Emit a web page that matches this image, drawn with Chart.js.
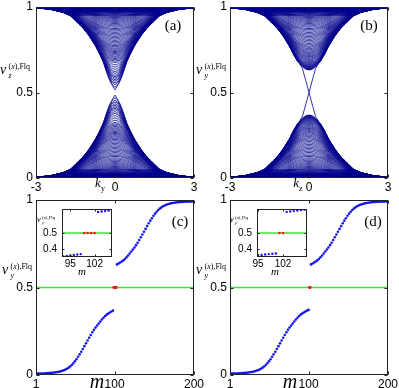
<!DOCTYPE html>
<html>
<head>
<meta charset="utf-8">
<script src="https://cdn.jsdelivr.net/npm/chart.js@4.4.0/dist/chart.umd.min.js"></script>
<style>
  html, body { margin: 0; padding: 0; background: #fff; }
  #wrap { position: relative; width: 399px; height: 388px; overflow: hidden; }
  #wrap canvas { position: absolute; left: 0; top: 0; }
  .t { position: absolute; white-space: nowrap; color: #000; line-height: 1; }
</style>
</head>
<body>
<div id="wrap">
  <canvas id="pa" width="399" height="388"></canvas>
  <canvas id="pb" width="399" height="388"></canvas>
  <canvas id="pc" width="399" height="388"></canvas>
  <canvas id="pd" width="399" height="388"></canvas>
  <canvas id="ic" width="399" height="388"></canvas>
  <canvas id="id" width="399" height="388"></canvas>
</div>
<script>
// ---- data ----

// outer edge of the lower band (nu at k) for panels (a) and (b)
const envK = [0, 0.1, 0.2, 0.3, 0.45, 0.6, 0.75, 1.0, 1.2, 1.5, 1.7, 2.0, 2.5, 3.0, 4.5];
const envA = [0.485, 0.46, 0.43, 0.39, 0.32, 0.27, 0.225, 0.165, 0.126, 0.08, 0.05, 0.03, 0.012, 0.005, 0.002];
const envB = [0.368, 0.365, 0.356, 0.342, 0.315, 0.275, 0.228, 0.166, 0.126, 0.08, 0.05, 0.03, 0.012, 0.005, 0.002];

// in-gap states crossing 0.5 in panel (b)
const edgeK    = [-0.36, -0.25, -0.15, 0, 0.15, 0.25, 0.36];
const edgeDown = [0.67, 0.64, 0.585, 0.5, 0.415, 0.36, 0.33];
const edgeUp   = [0.33, 0.36, 0.415, 0.5, 0.585, 0.64, 0.67];

// panel (c): Wannier centres vs m, lower branch m = 1..98
const lowerC = [
  0.008,0.008,0.008,0.008,0.008,0.009,0.009,0.009,0.009,0.009,
  0.009,0.010,0.010,0.010,0.010,0.011,0.011,0.011,0.012,0.012,
  0.013,0.013,0.014,0.014,0.015,0.016,0.016,0.017,0.018,0.019,
  0.020,0.021,0.022,0.024,0.025,0.027,0.029,0.031,0.033,0.036,
  0.039,0.042,0.045,0.049,0.053,0.057,0.062,0.067,0.072,0.078,
  0.084,0.090,0.097,0.104,0.111,0.118,0.126,0.133,0.141,0.149,
  0.157,0.165,0.173,0.181,0.189,0.197,0.205,0.213,0.221,0.229,
  0.236,0.244,0.251,0.258,0.265,0.271,0.277,0.283,0.289,0.294,
  0.300,0.306,0.312,0.317,0.322,0.327,0.332,0.337,0.341,0.345,
  0.348,0.351,0.354,0.357,0.360,0.363,0.366,0.368
];
// upper branch m = 103..200
const upperC = [
  0.632,0.634,0.637,0.640,0.643,0.646,0.649,0.652,
  0.655,0.659,0.663,0.668,0.673,0.678,0.683,0.688,0.694,0.700,
  0.706,0.711,0.717,0.723,0.729,0.735,0.742,0.749,0.756,0.764,
  0.771,0.779,0.787,0.795,0.803,0.811,0.819,0.827,0.835,0.843,
  0.851,0.859,0.867,0.874,0.882,0.889,0.896,0.903,0.910,0.916,
  0.922,0.928,0.933,0.938,0.943,0.947,0.951,0.955,0.958,0.961,
  0.964,0.967,0.969,0.971,0.973,0.975,0.976,0.978,0.979,0.980,
  0.981,0.982,0.983,0.984,0.984,0.985,0.986,0.986,0.987,0.987,
  0.988,0.988,0.989,0.989,0.989,0.990,0.990,0.990,0.990,0.991,
  0.991,0.991,0.991,0.991,0.991,0.992,0.992,0.992,0.992,0.992
];
const upperStart = 103;
const redC = [99, 100, 101, 102];   // states pinned at 0.5

// panel (d): lower branch runs to m = 100, two states at 0.5
const lowerD = lowerC.concat([0.370, 0.372]);
const upperD = upperC;
const redD = [101, 102];

const lineBlue = 'rgb(0,0,140)';
const dotBlue = 'rgb(20,20,240)';
const dotRed = 'rgb(240,20,20)';
const green = 'rgb(60,230,60)';
const sansFont = '"Liberation Sans", Arial, sans-serif';
const serifFont = '"Liberation Serif", "DejaVu Serif", serif';

// ---- helpers ----
function interp(xs, ys, x) {
  if (x <= xs[0]) return ys[0];
  for (let i = 0; i < xs.length - 1; i++) {
    if (x <= xs[i + 1]) {
      const t = (x - xs[i]) / (xs[i + 1] - xs[i]);
      return ys[i] + t * (ys[i + 1] - ys[i]);
    }
  }
  return ys[ys.length - 1];
}
// k offset at which the (decreasing) panel-b edge reaches value p
function invertEdge(p) {
  if (p >= envB[0]) return 0;
  for (let i = 0; i < envB.length - 1; i++) {
    if (p >= envB[i + 1]) {
      return envK[i] + (envK[i + 1] - envK[i]) * (envB[i] - p) / (envB[i] - envB[i + 1]);
    }
  }
  return envK[envK.length - 1];
}

const ks = [];
for (let i = 0; i <= 150; i++) ks.push(-3 + i * 0.04);

// one line per band: lower bands peak at lowerC values, upper ones dip to upperC values
function bandSets(env) {
  const sets = [];
  const style = { showLine: true, pointRadius: 0, borderWidth: 0.8, borderColor: lineBlue, parsing: false, normalized: true };
  lowerC.forEach(p => {
    const q = invertEdge(p);
    sets.push(Object.assign({ data: ks.map(k => ({ x: k, y: interp(envK, env, Math.hypot(k, q)) })) }, style));
  });
  upperC.forEach(t => {
    const q = invertEdge(1 - t);
    sets.push(Object.assign({ data: ks.map(k => ({ x: k, y: 1 - interp(envK, env, Math.hypot(k, q)) })) }, style));
  });
  return sets;
}

// step 2 in the big panels (every other centre is shown there), 1 in the insets
function pts(vals, m0, step, fromEnd) {
  const out = [];
  vals.forEach((v, i) => {
    const j = fromEnd ? vals.length - 1 - i : i;
    if (j % step === 0) out.push({ x: m0 + i, y: v });
  });
  return out;
}
function half(ms) { return ms.map(m => ({ x: m, y: 0.5 })); }

function mSets(lower, upper, red, r, step) {
  return [
    { data: half(red), pointRadius: r + 0.1, pointBackgroundColor: dotRed, pointBorderWidth: 0 },
    { data: pts(lower, 1, step, true).concat(pts(upper, upperStart, step, false)),
      pointRadius: r, pointBackgroundColor: dotBlue, pointBorderWidth: 0 },
    { data: [{ x: 1, y: 0.5 }, { x: 200, y: 0.5 }], showLine: true, pointRadius: 0, borderColor: green, borderWidth: step > 1 ? 1.7 : 1.3 }
  ];
}

// box round the plot area with small inward ticks
const frameBox = {
  id: 'frameBox',
  beforeDatasetsDraw(chart, args, o) {
    if (!o.white) return;
    const a = chart.chartArea;
    chart.ctx.fillStyle = '#fff';
    chart.ctx.fillRect(a.left, a.top, a.width, a.height);
  },
  afterDraw(chart, args, o) {
    const { ctx, chartArea: a, scales } = chart;
    const L = Math.round(a.left) + 0.5, R = Math.round(a.right) - 0.5;
    const T = Math.round(a.top) + 0.5, B = Math.round(a.bottom) - 0.5;
    const len = o.len || 3;
    ctx.save();
    ctx.strokeStyle = '#222';
    ctx.lineWidth = 1;
    ctx.strokeRect(L, T, R - L, B - T);
    ctx.beginPath();
    scales.x.ticks.forEach(t => {
      const px = Math.round(scales.x.getPixelForValue(t.value)) + 0.5;
      ctx.moveTo(px, B); ctx.lineTo(px, B - len);
      ctx.moveTo(px, T); ctx.lineTo(px, T + len);
    });
    scales.y.ticks.forEach(t => {
      const py = Math.round(scales.y.getPixelForValue(t.value)) + 0.5;
      ctx.moveTo(L, py); ctx.lineTo(L + len, py);
      ctx.moveTo(R, py); ctx.lineTo(R - len, py);
    });
    ctx.stroke();
    ctx.restore();
  }
};

function makeChart(id, datasets, c) {
  const fixTicks = vals => s => { s.ticks = vals.map(v => ({ value: v })); };
  return new Chart(document.getElementById(id), {
    type: 'scatter',
    data: { datasets: datasets },
    options: {
      responsive: false,
      animation: false,
      events: [],
      layout: { padding: c.pad },
      plugins: { legend: { display: false }, tooltip: { enabled: false }, frameBox: { white: c.white, len: c.len } },
      scales: {
        x: {
          type: 'linear', min: c.x[0], max: c.x[1],
          grid: { display: false, drawTicks: false }, border: { display: false },
          afterBuildTicks: fixTicks(c.xt),
          afterFit: s => { s.height = c.xh; s.paddingLeft = 0; s.paddingRight = 0; },
          ticks: { padding: c.xpad, autoSkip: false, maxRotation: 0, color: '#000',
                   font: { family: sansFont, size: c.fs }, callback: v => String(v) }
        },
        y: {
          type: 'linear', min: c.y[0], max: c.y[1],
          grid: { display: false, drawTicks: false }, border: { display: false },
          afterBuildTicks: fixTicks(c.yt),
          afterFit: s => { s.width = c.yw; s.paddingTop = 0; s.paddingBottom = 0; },
          ticks: { padding: c.ypad, autoSkip: false, color: '#000',
                   font: { family: sansFont, size: c.fs }, callback: v => String(v) }
        }
      }
    },
    plugins: [frameBox]
  });
}

// ---- top panels: band curves vs k ----
makeChart('pa', bandSets(envA), {
  pad: { left: 2, right: 205, top: 7, bottom: 190 }, yw: 34, xh: 20,
  x: [-3, 3], y: [0, 1], xt: [-3, 0, 3], yt: [0, 0.5, 1], xpad: 2, ypad: 3, fs: 12
});

const bSets = bandSets(envB);
bSets.push({ data: edgeK.map((k, i) => ({ x: k, y: edgeDown[i] })), showLine: true, pointRadius: 0, borderWidth: 0.8, borderColor: lineBlue });
bSets.push({ data: edgeK.map((k, i) => ({ x: k, y: edgeUp[i] })), showLine: true, pointRadius: 0, borderWidth: 0.8, borderColor: lineBlue });
makeChart('pb', bSets, {
  pad: { left: 196, right: 11, top: 7, bottom: 190 }, yw: 34, xh: 20,
  x: [-3, 3], y: [0, 1], xt: [-3, 0, 3], yt: [0, 0.5, 1], xpad: 2, ypad: 3, fs: 12
});

// ---- bottom panels: centres vs m ----
makeChart('pc', mSets(lowerC, upperC, redC, 1.3, 2), {
  pad: { left: 2, right: 205, top: 200, bottom: 0 }, yw: 34, xh: 13,
  x: [1, 200], y: [0, 1], xt: [1, 100, 200], yt: [0, 0.5, 1], xpad: 2, ypad: 3, fs: 12
});
makeChart('pd', mSets(lowerD, upperD, redD, 1.3, 2), {
  pad: { left: 196, right: 11, top: 200, bottom: 0 }, yw: 34, xh: 13,
  x: [1, 200], y: [0, 1], xt: [1, 100, 200], yt: [0, 0.5, 1], xpad: 2, ypad: 3, fs: 12
});

// insets
makeChart('ic', mSets(lowerC, upperC, redC, 1.2, 1), {
  pad: { left: 42, right: 287, top: 209, bottom: 119 }, yw: 20, xh: 12, white: true, len: 2,
  x: [92.6, 107], y: [0.35, 0.65], xt: [95, 102], yt: [0.4, 0.5], xpad: 1, ypad: 5, fs: 10
});
makeChart('id', mSets(lowerD, upperD, redD, 1.2, 1), {
  pad: { left: 237, right: 92, top: 209, bottom: 119 }, yw: 20, xh: 12, white: true, len: 2,
  x: [94.7, 108.7], y: [0.35, 0.65], xt: [95, 102], yt: [0.4, 0.5], xpad: 1, ypad: 5, fs: 10
});

// ---- text: axis names and panel letters ----
const wrap = document.getElementById('wrap');
function addText(html, x, y, font, center) {
  const d = document.createElement('div');
  d.className = 't';
  d.innerHTML = html;
  d.style.left = x + 'px';
  d.style.top = y + 'px';
  d.style.font = font;
  if (center) d.style.transform = 'translate(-50%, -50%)';
  wrap.appendChild(d);
}
function nuLabel(x, yc, sub, s) {
  addText('ν', x, yc - 9 * s, 'italic ' + (14 * s) + 'px ' + serifFont);
  addText('(<i>x</i>),Flq', x + 8.5 * s, yc - 9 * s, (8 * s) + 'px ' + serifFont);
  addText('<i>' + sub + '</i>', x + 8.5 * s, yc, (8 * s) + 'px ' + serifFont);
}

nuLabel(0, 71, 'z', 1);
nuLabel(196, 71, 'y', 1);
nuLabel(2, 271, 'y', 1);
nuLabel(196, 271, 'y', 1);
nuLabel(37, 220, 'y', 0.6);
nuLabel(230, 220, 'y', 0.6);

addText('<i>k</i><sub style="font-size:8px">y</sub>', 100, 184, '13px ' + serifFont, true);
addText('<i>k</i><sub style="font-size:8px">z</sub>', 298, 184, '13px ' + serifFont, true);
addText('<i>m</i>', 97, 381, '20px ' + serifFont, true);
addText('<i>m</i>', 290, 381, '20px ' + serifFont, true);
addText('<i>m</i>', 82, 271, '11px ' + serifFont, true);
addText('<i>m</i>', 275, 271, '11px ' + serifFont, true);

addText('(a)', 173, 25, '15px ' + serifFont, true);
addText('(b)', 369, 25, '15px ' + serifFont, true);
addText('(c)', 180, 221, '15px ' + serifFont, true);
addText('(d)', 373, 221, '15px ' + serifFont, true);
</script>
</body>
</html>
